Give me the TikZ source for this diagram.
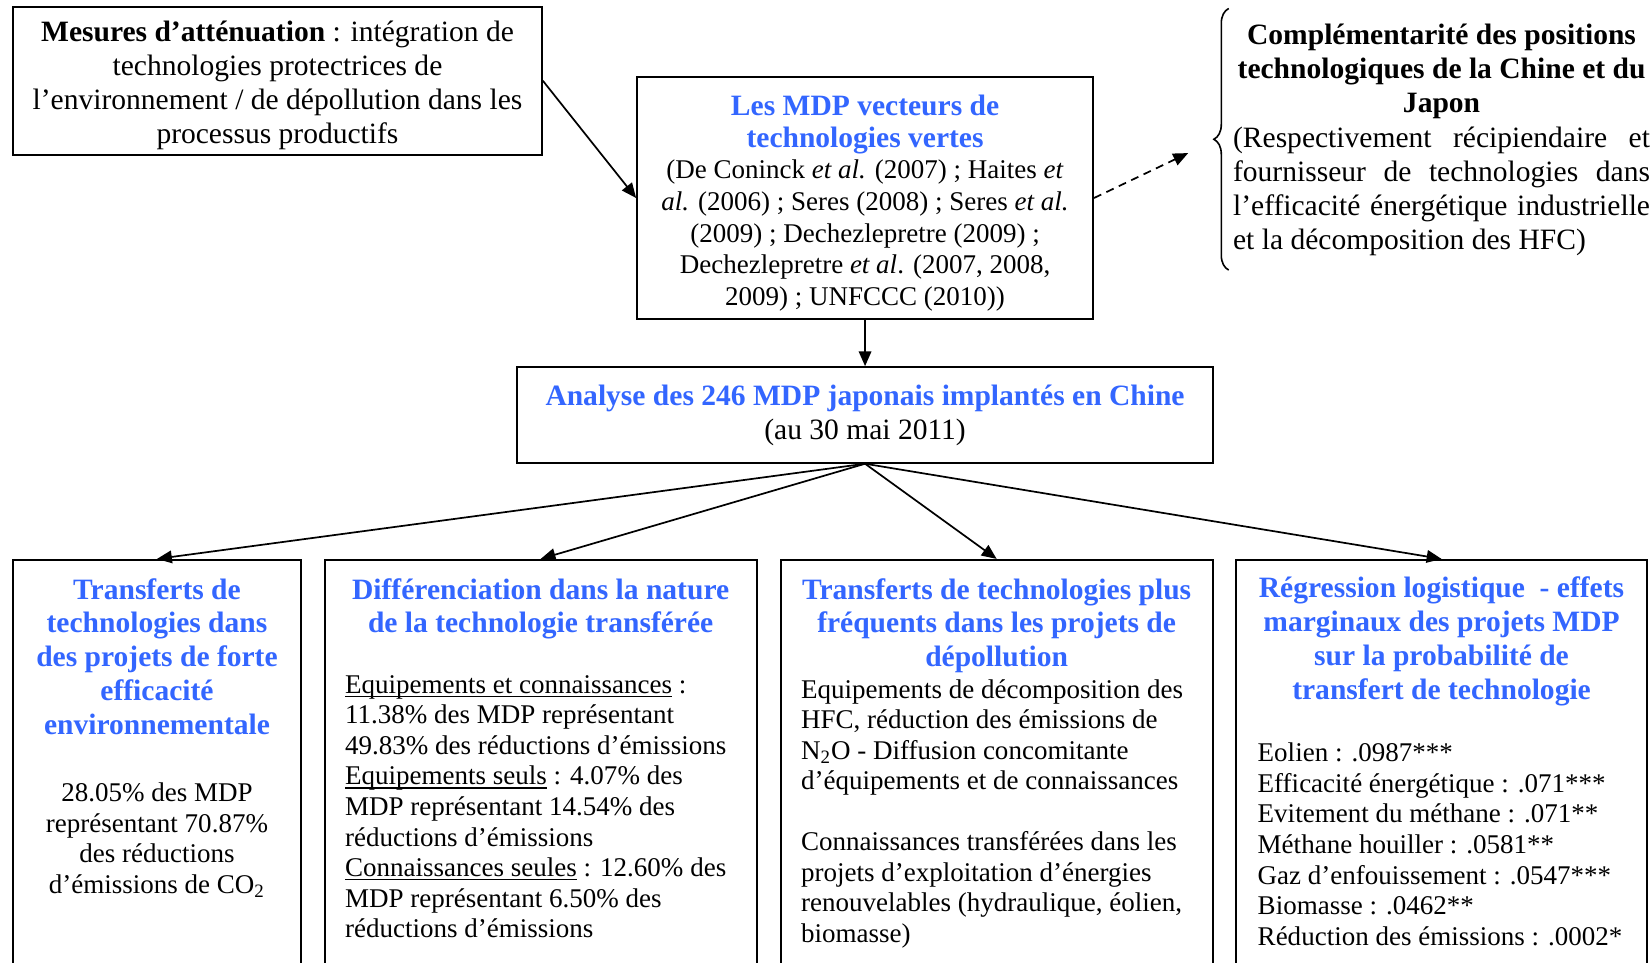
\documentclass[tikz,border=0pt]{standalone}
\usepackage{fontspec}
\setmainfont{Liberation Serif}
\usetikzlibrary{arrows.meta, calc, positioning, decorations.pathreplacing}
\definecolor{ttlblue}{RGB}{51,102,255}
\newcommand{\uln}[1]{\setbox0\hbox{#1}\rlap{\rule[-1.6pt]{\wd0}{0.55pt}}\box0\relax}

\begin{document}
\begin{tikzpicture}[
  box/.style={draw, line width=0.8pt, align=center, inner sep=0pt},
  colbox/.style={draw, line width=0.8pt, anchor=north, minimum height=7.2cm,
                 inner sep=0pt},
  ttl/.style={font=\fontsize{12.9}{14.8}\selectfont\bfseries, text=ttlblue,
              align=center, inner sep=0pt},
  txt/.style={font=\fontsize{11.8}{13.35}\selectfont, align=left, inner sep=0pt},
  arr/.style={-{Triangle[length=6.5pt, width=5.5pt]}, line width=0.75pt},
  dasharr/.style={arr, dash pattern=on 3.5pt off 2.5pt},
  brc/.style={decorate, decoration={brace, amplitude=6.5pt}, line width=0.7pt},
]
  \path[use as bounding box, fill=white] (0,0) rectangle (25.33,-14.78);
  \clip (0,0) rectangle (25.33,-14.78);

  %% ── Top row ──
  \node[box, font=\fontsize{12.9}{14.8}\selectfont,
        minimum width=8.12cm, minimum height=2.27cm] (mesures) at (4.26,-1.24)
    {\rule{0pt}{12.9pt}\textbf{Mesures d’atténuation} : intégration de\\
     technologies protectrices de\\
     l’environnement / de dépollution dans les\\
     processus productifs};

  \node[box, font=\fontsize{11.8}{13.8}\selectfont,
        minimum width=7.00cm, minimum height=3.71cm] (mdp) at (13.28,-3.04)
    {\rule{0pt}{13.4pt}\textcolor{ttlblue}{\fontsize{12.9}{13.8}\selectfont\bfseries Les MDP vecteurs de}\\
     \textcolor{ttlblue}{\fontsize{12.9}{13.8}\selectfont\bfseries technologies vertes}\\
     (De Coninck \textit{et al.} (2007) ; Haites \textit{et}\\
     \textit{al.} (2006) ; Seres (2008) ; Seres \textit{et al.}\\
     (2009) ; Dechezlepretre (2009) ;\\
     Dechezlepretre \textit{et al}. (2007, 2008,\\
     2009) ; UNFCCC (2010))};

  %% right-hand remark with brace
  \node[ttl, text=black, anchor=north] (compltitle) at (22.13,-0.36)
    {Complémentarité des positions\\
     technologiques de la Chine et du\\
     Japon};
  \node[font=\fontsize{12.9}{14.8}\selectfont, text width=6.40cm, align=justify,
        inner sep=0pt, anchor=north] (compltext) at (22.13,-1.94)
    {(Respectivement récipiendaire et\linebreak
     fournisseur de technologies dans\linebreak
     l’efficacité énergétique industrielle\linebreak
     et la décomposition des HFC)};
  \draw[brc] ($(compltext.south west)+(-0.06,-0.22)$)
          -- ($(compltext.west |- compltitle.north)+(-0.06,0.23)$);
  \coordinate (dashend) at (18.24,-2.35);

  %% ── Middle ──
  \node[box, font=\fontsize{12.9}{14.8}\selectfont,
        minimum width=10.68cm, minimum height=1.47cm] (analyse) at (13.28,-6.37)
    {\textcolor{ttlblue}{\bfseries Analyse des 246 MDP japonais implantés en Chine}\\
     (au 30 mai 2011)};

  %% ── Bottom row (frames run off the page) ──
  \node[colbox, minimum width=4.42cm] (b1) at (2.41,-8.58) {};
  \node[colbox, minimum width=6.63cm] (b2) at (8.30,-8.58) {};
  \node[colbox, minimum width=6.63cm] (b3) at (15.30,-8.58) {};
  \node[colbox, minimum width=6.31cm] (b4) at (22.13,-8.58) {};

  \node[ttl, below=0.29cm of b1.north] (b1t)
    {Transferts de\\technologies dans\\des projets de forte\\efficacité\\environnementale};
  \node[txt, align=center, below=3.43cm of b1.north] (b1b)
    {28.05\% des MDP\\représentant 70.87\%\\des réductions\\d’émissions de CO\textsubscript{2}};

  \node[ttl, below=0.29cm of b2.north] (b2t)
    {Différenciation dans la nature\\de la technologie transférée};
  \node[txt, below right=1.78cm and 0.32cm of b2.north west] (b2b)
    {\uln{Equipements et connaissances} :\\
     11.38\% des MDP représentant\\
     49.83\% des réductions d’émissions\\
     \uln{Equipements seuls} : 4.07\% des\\
     MDP représentant 14.54\% des\\
     réductions d’émissions\\
     \uln{Connaissances seules} : 12.60\% des\\
     MDP représentant 6.50\% des\\
     réductions d’émissions};

  \node[ttl, below=0.29cm of b3.north] (b3t)
    {Transferts de technologies plus\\fréquents dans les projets de\\dépollution};
  \node[txt, below right=1.84cm and 0.32cm of b3.north west] (b3b)
    {Equipements de décomposition des\\
     HFC, réduction des émissions de\\
     N\textsubscript{2}O - Diffusion concomitante\\
     d’équipements et de connaissances\\[13.35pt]
     Connaissances transférées dans les\\
     projets d’exploitation d’énergies\\
     renouvelables (hydraulique, éolien,\\
     biomasse)};

  \node[ttl, below=0.27cm of b4.north] (b4t)
    {Régression logistique~ - effets\\marginaux des projets MDP\\sur la probabilité de\\transfert de technologie};
  \node[txt, below right=2.82cm and 0.34cm of b4.north west] (b4b)
    {Eolien : .0987***\\
     Efficacité énergétique : .071***\\
     Evitement du méthane : .071**\\
     Méthane houiller : .0581**\\
     Gaz d’enfouissement : .0547***\\
     Biomasse : .0462**\\
     Réduction des émissions : .0002*};

  %% ── Connectors ──
  \draw[arr] (mesures.east) -- (mdp.west);
  \draw[dasharr] (mdp.east) -- (dashend);
  \draw[arr] (mdp) -- (analyse);
  \draw[arr] (analyse.south) -- (b1.north);
  \draw[arr] (analyse.south) -- (b2.north);
  \draw[arr] (analyse.south) -- (b3.north);
  \draw[arr] (analyse.south) -- (b4.north);
\end{tikzpicture}
\end{document}
